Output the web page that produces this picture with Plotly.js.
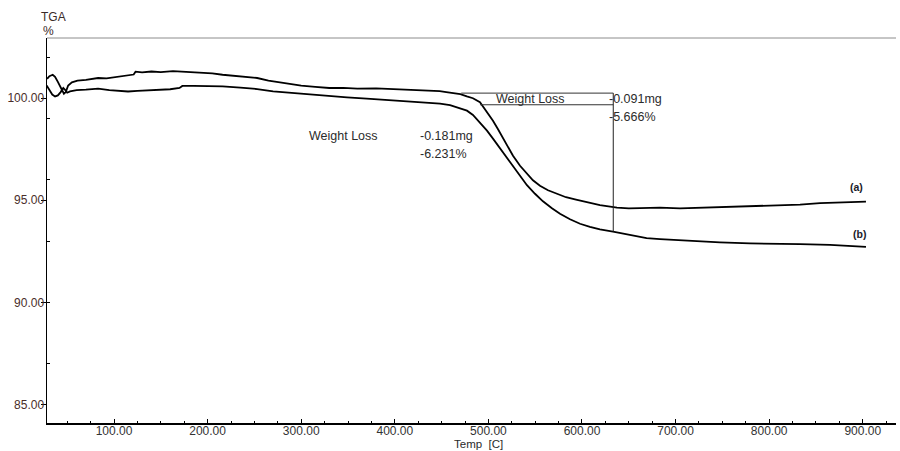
<!DOCTYPE html>
<html>
<head>
<meta charset="utf-8">
<script src="https://cdn.plot.ly/plotly-3.0.1.min.js"></script>
<style>html,body{margin:0;padding:0;background:#fff}#chart{width:900px;height:451px}</style>
</head>
<body>
<div id="chart"></div>
<script>
// Curve (a) — upper TGA trace
const tempA = [28.5,31,34.5,37,40,43,46.5,48.5,51,55,61,70,83,92,100,110,118,121,123,130,140,150,163,175,190,205,216,230,245,253,265,278,290,300,315,330,345,360,380,400,420,440,448,455,462,470,477,483.5,491,494.2,499.6,504.9,510.3,515.6,521,526.3,533.8,541.2,547.6,555.1,563.7,573.3,582.9,593.6,605.4,619.2,637.4,650,662,683.3,704.7,726,747.4,768.8,790.2,811.5,833,854.3,875.6,891.7,903.4];
const tgaA  = [100.95,101.08,101.15,101.05,100.8,100.5,100.22,100.3,100.62,100.78,100.86,100.9,100.99,100.97,101.02,101.08,101.13,101.16,101.3,101.27,101.31,101.28,101.33,101.3,101.28,101.22,101.15,101.1,101.02,100.99,100.86,100.76,100.68,100.62,100.56,100.5,100.51,100.47,100.48,100.44,100.42,100.38,100.35,100.3,100.25,100.2,100.09,100.0,99.8,99.6,99.29,98.9,98.48,98.06,97.62,97.18,96.69,96.3,95.98,95.71,95.49,95.32,95.15,95.03,94.9,94.76,94.64,94.6,94.62,94.64,94.6,94.63,94.66,94.68,94.73,94.77,94.79,94.86,94.88,94.93,94.93];

// Curve (b) — lower TGA trace
const tempB = [28,31,34,37,40,43,45.8,48,50,53,60,70,83,95,105,115,125,135,145,160,170,173,185,200,216,235,253,270,288,300,320,348.9,370,395,419.4,430,448.3,459,466.5,477.1,483.5,491,498.5,504.9,512.4,518.8,526.3,533.8,541.2,549.8,558.3,567.9,576.5,587.2,597.9,608.5,619.2,633.1,651.3,669,683.3,704.7,726,747.4,779.5,811.5,833,865,886.3,903.4];
const tgaB  = [100.62,100.4,100.18,100.09,100.14,100.3,100.5,100.4,100.27,100.33,100.4,100.42,100.47,100.4,100.35,100.33,100.36,100.38,100.4,100.44,100.5,100.6,100.6,100.6,100.58,100.52,100.45,100.34,100.27,100.2,100.12,100.04,99.98,99.9,99.84,99.78,99.74,99.66,99.56,99.39,99.18,98.8,98.41,98.02,97.55,97.13,96.64,96.15,95.74,95.32,94.95,94.61,94.34,94.07,93.85,93.7,93.58,93.47,93.31,93.15,93.1,93.04,92.99,92.94,92.89,92.88,92.85,92.82,92.77,92.72];

// Tick labels
const xTickVals = [100,200,300,400,500,600,700,800,900];
const xTickText = ["100.00","200.00","300.00","400.00","500.00","600.00","700.00","800.00","900.00"];
const yTickVals = [85,90,95,100];
const yTickText = ["85.00","90.00","95.00","100.00"];

// Weight-loss markers (data coordinates)
const stepTemp = 633.4;
const levelTop = 100.25, levelLow = 99.68, levelEnd = 93.47;
const topLineStart = 471, lowLineStart = 491;

const txtColor = '#2b2b2b';
const font = 'Liberation Sans, Arial, sans-serif';

const traces = [
  {x: tempA, y: tgaA, type: 'scatter', mode: 'lines', line: {color: '#000', width: 1.8}, hoverinfo: 'skip', showlegend: false},
  {x: tempB, y: tgaB, type: 'scatter', mode: 'lines', line: {color: '#000', width: 1.8}, hoverinfo: 'skip', showlegend: false}
];

function ann(o) { return Object.assign({showarrow:false, yanchor:'middle'}, o); }

const annotations = [
  ann({xref:'paper', yref:'paper', x:-0.0094, y:1.0545, text:'TGA', font:{size:12, color:'#3a2a28', family:font}}),
  ann({xref:'paper', yref:'paper', x:-0.007, y:1.018, text:'%', font:{size:12, color:'#3a2a28', family:font}}),
  ann({xref:'paper', yref:'paper', x:0.5077, y:-0.0558, text:'Temp  [C]', font:{size:11.5, color:txtColor, family:font}}),
  ann({x:545.5, y:99.97, text:'Weight Loss', xanchor:'center', font:{size:12.5, color:txtColor, family:font}}),
  ann({x:626.5, y:99.97, text:'-0.091mg', xanchor:'left', font:{size:12.5, color:txtColor, family:font}}),
  ann({x:626.5, y:99.09, text:'-5.666%', xanchor:'left', font:{size:12.5, color:txtColor, family:font}}),
  ann({x:306, y:98.16, text:'Weight Loss', xanchor:'left', font:{size:12.5, color:txtColor, family:font}}),
  ann({x:424.5, y:98.16, text:'-0.181mg', xanchor:'left', font:{size:12.5, color:txtColor, family:font}}),
  ann({x:424.5, y:97.28, text:'-6.231%', xanchor:'left', font:{size:12.5, color:txtColor, family:font}}),
  ann({x:893.8, y:95.66, text:'<b>(a)</b>', font:{size:10.5, color:'#1a1a2a', family:font}}),
  ann({x:896, y:93.36, text:'<b>(b)</b>', font:{size:10.5, color:'#1a1a2a', family:font}})
];

const shapes = [
  {type:'line', xref:'paper', yref:'paper', x0:0, x1:1, y0:1, y1:1, line:{color:'#8c8c8c', width:1}},
  {type:'line', x0:topLineStart, x1:stepTemp, y0:levelTop, y1:levelTop, line:{color:'#333', width:1}},
  {type:'line', x0:lowLineStart, x1:stepTemp, y0:levelLow, y1:levelLow, line:{color:'#333', width:1}},
  {type:'line', x0:stepTemp, x1:stepTemp, y0:levelTop, y1:levelEnd, line:{color:'#222', width:1}}
];

const layout = {
  width: 900, height: 451,
  margin: {l:47, r:4, t:38, b:28, pad:0},
  paper_bgcolor: '#fff', plot_bgcolor: '#fff',
  showlegend: false,
  font: {family: font, size: 12, color: txtColor},
  xaxis: {
    range: [28.4, 935.5],
    tickmode: 'array', tickvals: xTickVals, ticktext: xTickText,
    ticks: 'inside', ticklen: 4, tickwidth: 1, tickcolor: '#000',
    minor: {dtick: 25, tick0: 0, ticks: 'inside', ticklen: 2, tickcolor: '#000', showgrid: false},
    showline: true, linecolor: '#000', linewidth: 1.5,
    showgrid: false, zeroline: false,
    ticklabelstandoff: -4,
    tickfont: {size: 12, color: '#333', family: font}
  },
  yaxis: {
    range: [84.09, 102.95],
    tickmode: 'array', tickvals: yTickVals, ticktext: yTickText,
    ticks: 'outside', ticklen: 5, tickwidth: 1, tickcolor: '#000',
    minor: {dtick: 3, tick0: 99, ticks: 'inside', ticklen: 3, tickcolor: '#000', showgrid: false},
    showline: true, linecolor: '#000', linewidth: 1.5,
    showgrid: false, zeroline: false,
    ticklabelstandoff: -6,
    tickfont: {size: 12, color: '#4a2e2a', family: font}
  },
  annotations: annotations,
  shapes: shapes
};

Plotly.newPlot('chart', traces, layout, {staticPlot: true, displayModeBar: false});
</script>
</body>
</html>
